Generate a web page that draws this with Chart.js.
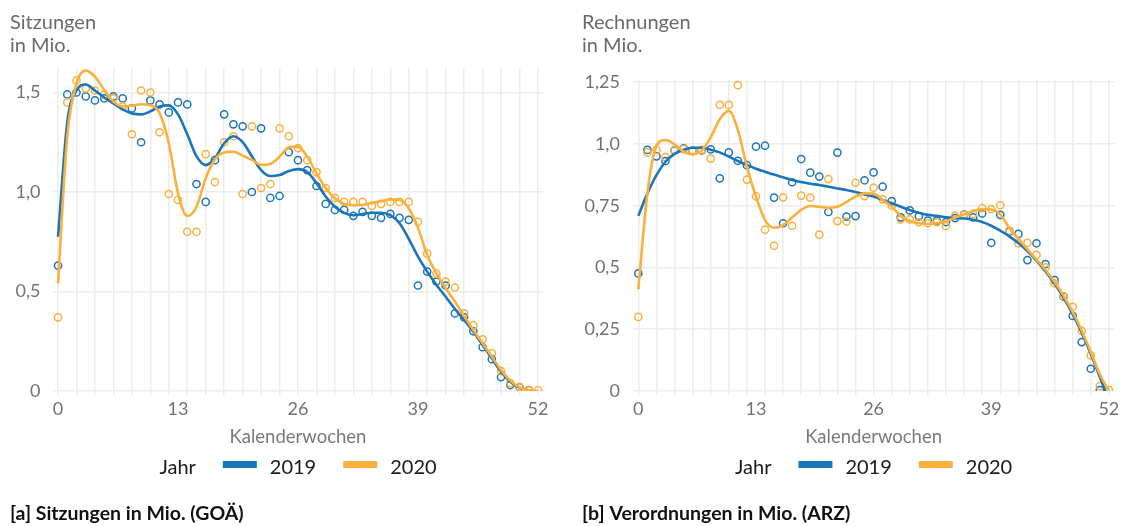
<!DOCTYPE html>
<html><head><meta charset="utf-8">
<script src="https://cdn.jsdelivr.net/npm/chart.js@4.4.1/dist/chart.umd.min.js"></script>
<style>
html,body{margin:0;padding:0;background:#fff;}
#wrap{position:relative;width:1123px;height:526px;overflow:hidden;background:#fff;}
.panel{position:absolute;top:0;height:526px;}
canvas{display:block;}
</style></head><body>
<div id="wrap">
<div class="panel" style="left:0;width:562px"><canvas id="c1" width="562" height="526"></canvas></div>
<div class="panel" style="left:562px;width:561px"><canvas id="c2" width="561" height="526"></canvas></div>
</div>
<script>
// ---------- data ----------
const weeks = [0,1,2,3,4,5,6,7,8,9,10,11,12,13,14,15,16,17,18,19,20,21,22,23,24,25,26,27,28,29,30,31,32,33,34,35,36,37,38,39,40,41,42,43,44,45,46,47,48,49,50,51,52];
const xTickLabels = [0,13,26,39,52];
const gridWeeks = [0,2,4,6,8,10,12,14,16,18,20,22,24,26,28,30,32,34,36,38,40,42,44,46,48,50,52];
const seriesNames = ['2019','2020'];

// [a] Sitzungen in Mio. (GOÄ)
const sitzTicks = [0,0.5,1.0,1.5];
const sitzTickLabels = ['0','0,5','1,0','1,5'];
const sitz2019Points = [0.63,1.49,1.50,1.48,1.46,1.47,1.48,1.47,1.42,1.25,1.46,1.44,1.40,1.45,1.44,1.04,0.95,1.16,1.39,1.34,1.33,1.00,1.32,0.97,0.98,1.20,1.16,1.11,1.03,0.94,0.91,0.91,0.88,0.90,0.88,0.87,0.89,0.87,0.86,0.53,0.60,0.55,0.53,0.39,0.37,0.30,0.22,0.16,0.07,0.03,0.02,0.005];
const sitz2020Points = [0.37,1.45,1.56,1.52,1.51,1.49,1.47,1.43,1.29,1.51,1.50,1.30,0.99,0.96,0.80,0.80,1.19,1.05,1.25,1.28,0.99,1.33,1.02,1.04,1.32,1.28,1.22,1.16,1.10,1.02,0.97,0.95,0.95,0.95,0.93,0.94,0.95,0.95,0.95,0.85,0.69,0.59,0.55,0.52,0.39,0.33,0.26,0.19,0.10,0.04,0.02,0.005,0.003];
const sitz2019Trend = [0.775,1.35,1.51,1.54,1.51,1.475,1.445,1.415,1.395,1.39,1.405,1.43,1.435,1.39,1.29,1.18,1.135,1.17,1.245,1.28,1.25,1.18,1.11,1.08,1.085,1.105,1.115,1.10,1.045,0.977,0.926,0.895,0.883,0.889,0.896,0.896,0.884,0.843,0.765,0.675,0.600,0.533,0.474,0.412,0.357,0.298,0.231,0.164,0.097,0.047,0.017,0.003];
const sitz2020Trend = [0.541,1.28,1.546,1.61,1.58,1.513,1.454,1.43,1.434,1.441,1.437,1.396,1.245,0.993,0.879,0.926,1.069,1.164,1.198,1.203,1.183,1.161,1.136,1.141,1.177,1.225,1.228,1.177,1.094,1.019,0.968,0.940,0.933,0.935,0.945,0.953,0.963,0.960,0.918,0.82,0.683,0.591,0.516,0.449,0.377,0.307,0.240,0.173,0.106,0.052,0.018,0.003,0.0];

// [b] Verordnungen in Mio. (ARZ)
const arzTicks = [0,0.25,0.5,0.75,1.0,1.25];
const arzTickLabels = ['0','0,25','0,5','0,75','1,0','1,25'];
const arz2019Points = [0.476,0.976,0.950,0.931,0.974,0.982,0.973,0.974,0.978,0.861,0.966,0.932,0.914,0.989,0.993,0.783,0.679,0.845,0.939,0.884,0.868,0.725,0.965,0.706,0.708,0.853,0.885,0.827,0.769,0.703,0.731,0.707,0.690,0.690,0.684,0.700,0.714,0.703,0.719,0.600,0.713,0.645,0.636,0.530,0.598,0.514,0.449,0.382,0.304,0.198,0.090,0.004];
const arz2020Points = [0.300,0.966,0.976,0.947,0.976,0.979,0.973,0.976,0.941,1.158,1.158,1.238,0.856,0.788,0.653,0.588,0.784,0.669,0.791,0.783,0.633,0.858,0.688,0.686,0.843,0.789,0.823,0.776,0.750,0.695,0.695,0.683,0.679,0.683,0.668,0.709,0.713,0.717,0.740,0.736,0.752,0.649,0.598,0.600,0.551,0.501,0.436,0.384,0.341,0.243,0.144,0.020,0.004];
const arz2019Trend = [0.709,0.800,0.874,0.928,0.960,0.977,0.985,0.985,0.977,0.966,0.949,0.931,0.915,0.900,0.888,0.876,0.865,0.854,0.846,0.839,0.834,0.827,0.820,0.814,0.806,0.796,0.787,0.773,0.760,0.746,0.733,0.722,0.713,0.709,0.703,0.700,0.698,0.693,0.684,0.669,0.649,0.626,0.599,0.566,0.528,0.484,0.435,0.377,0.311,0.236,0.150,0.058,-0.04];
const arz2020Trend = [0.412,0.800,0.992,1.016,0.999,0.969,0.958,0.973,1.027,1.100,1.134,1.057,0.908,0.787,0.692,0.661,0.671,0.703,0.733,0.749,0.746,0.742,0.746,0.765,0.787,0.800,0.799,0.773,0.746,0.709,0.688,0.679,0.676,0.679,0.687,0.702,0.715,0.728,0.737,0.735,0.715,0.660,0.616,0.574,0.532,0.490,0.441,0.385,0.320,0.245,0.158,0.068,0.0];

// ---------- style ----------
const BLUE = '#1b75bb';
const ORANGE = '#fbb03b';
const GRID = '#ececec';
const FONT = 'Lato';
Chart.defaults.font.family = FONT;

const decor = {
  id: 'decor',
  afterDraw(chart, args, o) {
    const ctx = chart.ctx;
    const xs = chart.scales.x;
    ctx.save();
    // y-axis title (top-left, horizontal)
    ctx.font = '20px ' + FONT;
    ctx.fillStyle = '#6a6a6a';
    ctx.textAlign = 'left';
    ctx.textBaseline = 'alphabetic';
    o.yTitle.forEach((t, i) => ctx.fillText(t, o.textX, 29 + i * 23));
    // legend
    ctx.font = '20px ' + FONT;
    const wJ = ctx.measureText(o.legendTitle).width;
    const lines = chart.data.datasets.filter(d => d.isTrend);
    lines.sort((a, b) => a.label.localeCompare(b.label));
    const sw = 34, g1 = 27, g2 = 13, g3 = 27;
    let total = wJ + g1;
    lines.forEach((d, i) => { total += sw + g2 + ctx.measureText(d.label).width + (i < lines.length - 1 ? g3 : 0); });
    const cx = (xs.getPixelForValue(0) + xs.getPixelForValue(52)) / 2;
    let x = cx - total / 2;
    ctx.fillStyle = '#1a1a1a';
    ctx.fillText(o.legendTitle, x, 474);
    x += wJ + g1;
    lines.forEach((d, i) => {
      ctx.fillStyle = d.borderColor;
      ctx.fillRect(x, 461, sw, 7);
      x += sw + g2;
      ctx.fillStyle = '#1a1a1a';
      ctx.fillText(d.label, x, 474);
      x += ctx.measureText(d.label).width + g3;
    });
    // caption
    ctx.font = 'bold 19.5px ' + FONT;
    ctx.fillStyle = '#111';
    ctx.fillText(o.caption, o.textX, 520);
    ctx.restore();
  }
};

function makeChart(id, p) {
  const pts = arr => arr.map((v, i) => ({ x: weeks[i], y: v }));
  const xTickValues = Array.from(new Set(gridWeeks.concat(xTickLabels))).sort((a, b) => a - b);
  return new Chart(document.getElementById(id), {
    type: 'line',
    data: {
      datasets: [
        { label: seriesNames[1], isTrend: true, data: pts(p.trend20), borderColor: ORANGE, borderWidth: 2.6, pointRadius: 0, cubicInterpolationMode: 'monotone', fill: false, order: 0 },
        { label: seriesNames[0], isTrend: true, data: pts(p.trend19), borderColor: BLUE, borderWidth: 2.6, pointRadius: 0, cubicInterpolationMode: 'monotone', fill: false, order: 1 },
        { label: seriesNames[1] + ' Werte', data: pts(p.pts20), showLine: false, pointRadius: 3.6, pointBorderWidth: 1.5, borderColor: ORANGE, pointBorderColor: ORANGE, pointBackgroundColor: 'rgba(255,255,255,0)', order: 2 },
        { label: seriesNames[0] + ' Werte', data: pts(p.pts19), showLine: false, pointRadius: 3.6, pointBorderWidth: 1.5, borderColor: BLUE, pointBorderColor: BLUE, pointBackgroundColor: 'rgba(255,255,255,0)', order: 3 }
      ]
    },
    options: {
      responsive: false,
      animation: false,
      events: [],
      layout: { padding: { left: p.padLeft, right: p.padRight, top: p.padTop, bottom: p.padBottom } },
      plugins: {
        legend: { display: false },
        tooltip: { enabled: false },
        decor: { yTitle: p.yTitle, caption: p.caption, legendTitle: 'Jahr', textX: p.textX }
      },
      scales: {
        x: {
          type: 'linear', min: -0.6, max: 52.6,
          afterBuildTicks: s => { s.ticks = xTickValues.map(v => ({ value: v })); },
          afterFit: s => { s.height = 60; },
          border: { display: false },
          grid: {
            color: c => (c.tick && gridWeeks.includes(c.tick.value)) ? GRID : 'rgba(0,0,0,0)',
            lineWidth: 1.5, drawTicks: true, tickLength: 4
          },
          ticks: {
            autoSkip: false, maxRotation: 0, padding: 3,
            font: { size: 18 }, color: '#727272',
            callback: v => xTickLabels.includes(v) ? String(v) : ''
          },
          title: { display: true, text: 'Kalenderwochen', font: { size: 18.5 }, color: '#7a7a7a', padding: { top: 0, bottom: 3 } }
        },
        y: {
          min: 0, max: p.ymax,
          afterBuildTicks: s => { s.ticks = p.yTicks.map(v => ({ value: v })); },
          afterFit: s => { s.width = p.yAxisWidth; },
          border: { display: false },
          grid: { color: GRID, lineWidth: 1.5, drawTicks: false },
          ticks: {
            padding: p.yPad, font: { size: 18 }, color: '#727272',
            callback: v => p.yTickLabels[p.yTicks.indexOf(v)]
          }
        }
      }
    },
    plugins: [decor]
  });
}

makeChart('c1', {
  pts19: sitz2019Points, pts20: sitz2020Points, trend19: sitz2019Trend, trend20: sitz2020Trend,
  yTicks: sitzTicks, yTickLabels: sitzTickLabels, ymax: 1.623,
  yTitle: ['Sitzungen', 'in Mio.'], caption: '[a] Sitzungen in Mio. (GOÄ)',
  padLeft: 10, padRight: 18.5, padTop: 68, padBottom: 75, yAxisWidth: 42.5, yPad: 12, textX: 10
});
makeChart('c2', {
  pts19: arz2019Points, pts20: arz2020Points, trend19: arz2019Trend, trend20: arz2020Trend,
  yTicks: arzTicks, yTickLabels: arzTickLabels, ymax: 1.259,
  yTitle: ['Rechnungen', 'in Mio.'], caption: '[b] Verordnungen in Mio. (ARZ)',
  padLeft: 20, padRight: 8.7, padTop: 80, padBottom: 75, yAxisWidth: 50.9, yPad: 13, textX: 20
});
</script>
</body></html>
